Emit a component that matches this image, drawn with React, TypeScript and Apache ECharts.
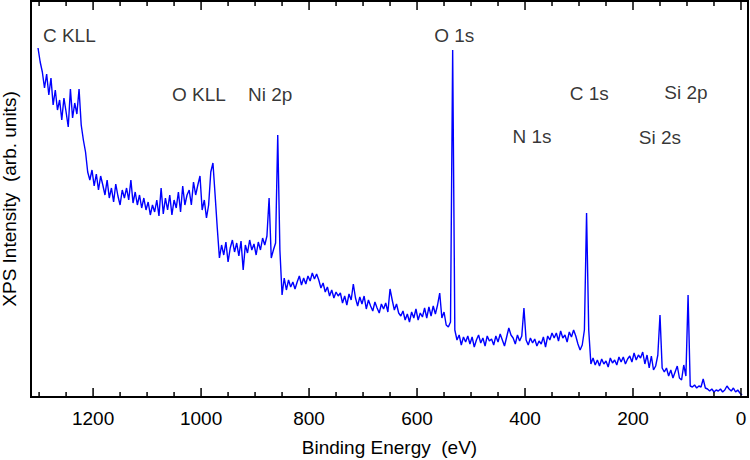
import React, { useEffect, useRef } from "react";
import * as echarts from "echarts";

// Survey scan: binding energy grid (eV) and counts in arbitrary units
const SCAN_START_EV = 1302;
const SCAN_STEP_EV = 4;
const intensity = [
  349, 335, 325, 309, 323, 302, 319, 292, 307, 287, // 1302
  297, 277, 299, 285, 270, 308, 279, 294, 283, 308, // 1262
  272, 257, 245, 225, 217, 227, 211, 223, 207, 221, // 1222
  212, 202, 217, 199, 209, 195, 213, 201, 192, 207, // 1182
  199, 209, 197, 217, 194, 205, 192, 202, 189, 199, // 1142
  187, 195, 182, 192, 185, 197, 181, 209, 183, 199, // 1102
  187, 202, 182, 197, 189, 205, 185, 211, 192, 202, // 1062
  207, 192, 215, 202, 212, 221, 187, 197, 179, 192, // 1022
  225, 234, 202, 169, 139, 152, 142, 155, 135, 149, // 982
  157, 145, 154, 141, 156, 127, 152, 144, 157, 147, // 942
  153, 142, 155, 147, 159, 152, 161, 199, 139, 147, // 902
  154, 262, 147, 102, 119, 107, 117, 110, 115, 108, // 862
  115, 121, 112, 119, 113, 121, 116, 124, 118, 123, // 822
  117, 109, 114, 105, 110, 101, 107, 99, 105, 101, // 782
  104, 94, 101, 92, 103, 97, 113, 99, 91, 100, // 742
  93, 101, 88, 97, 91, 86, 95, 89, 84, 93, // 702
  88, 94, 85, 108, 97, 87, 93, 84, 81, 86, // 662
  77, 83, 75, 85, 79, 88, 77, 84, 80, 89, // 622
  79, 90, 81, 91, 83, 92, 104, 79, 85, 72, // 582
  70, 75, 347, 67, 57, 62, 52, 60, 55, 61, // 542
  53, 60, 50, 57, 62, 54, 59, 51, 61, 56, // 502
  58, 52, 61, 55, 63, 57, 51, 60, 69, 62, // 462
  59, 53, 62, 56, 61, 89, 57, 52, 59, 54, // 422
  58, 51, 56, 53, 60, 50, 61, 57, 64, 59, // 382
  64, 56, 66, 59, 62, 55, 65, 60, 67, 61, // 342
  53, 47, 52, 67, 184, 67, 33, 39, 32, 37, // 302
  31, 38, 33, 36, 30, 39, 34, 37, 32, 40, // 262
  35, 40, 33, 38, 41, 35, 44, 37, 42, 39, // 222
  45, 33, 42, 29, 41, 27, 31, 42, 82, 29, // 182
  25, 29, 21, 27, 19, 25, 31, 19, 17, 32, // 142
  21, 102, 11, 10, 12, 9, 11, 10, 18, 9, // 102
  8, 6, 8, 5, 7, 6, 8, 5, 7, 11, // 62
  8, 6, 9, 5, 7, 4, 2, // 22
];

// Axis ticks (eV)
const majorTicks = [0, 200, 400, 600, 800, 1000, 1200];
const minorTicks = [50, 100, 150, 250, 300, 350, 450, 500, 550, 650, 700, 750, 850, 900, 950, 1050, 1100, 1150, 1250, 1300];

// Peak annotations
const peakNames = ["C KLL", "O KLL", "Ni 2p", "O 1s", "N 1s", "C 1s", "Si 2s", "Si 2p"];
const peakLabelEnergy = [1244, 1004, 872, 531, 387, 281, 150, 102];
const peakLabelHeight = [362, 303, 303, 362, 261, 304, 260, 305];

const X_MIN = -13;
const X_MAX = 1315;
const Y_MIN = 0;
const Y_MAX = 396;

const MAJOR_TICK_PX = 9;
const MINOR_TICK_PX = 5;

const FONT = "'Liberation Sans', Arial, sans-serif";
const FONT_SIZE = 19;

export default function App() {
  const ref = useRef<HTMLDivElement>(null);

  useEffect(() => {
    if (!ref.current) return;
    const chart = echarts.init(ref.current, null, { renderer: "svg" });

    const spectrum = intensity.map((v, i) => [SCAN_START_EV - i * SCAN_STEP_EV, v]);
    const labels = peakNames.map((name, i) => ({
      name,
      value: [peakLabelEnergy[i], peakLabelHeight[i]],
    }));

    chart.setOption({
      animation: false,
      backgroundColor: "#fff",
      grid: {
        left: 31,
        right: 2,
        top: 1,
        bottom: 63,
        outerBoundsMode: "none",
        containLabel: false,
        show: true,
        borderColor: "#000",
        borderWidth: 2,
      },
      xAxis: {
        type: "value",
        min: X_MIN,
        max: X_MAX,
        inverse: true,
        splitLine: { show: false },
        axisLine: { show: false },
        axisTick: { show: false },
        axisLabel: {
          show: true,
          customValues: majorTicks,
          formatter: (v: number) => String(v),
          fontSize: FONT_SIZE,
          color: "#000",
          fontFamily: FONT,
          margin: 12,
        },
        name: "Binding Energy  (eV)",
        nameLocation: "middle",
        nameGap: 41,
        nameTextStyle: { fontSize: FONT_SIZE, color: "#000", fontFamily: FONT },
      },
      yAxis: {
        type: "value",
        min: Y_MIN,
        max: Y_MAX,
        axisLine: { show: false },
        axisTick: { show: false },
        axisLabel: { show: false },
        splitLine: { show: false },
      },
      series: [
        {
          type: "line",
          data: spectrum,
          showSymbol: false,
          silent: true,
          lineStyle: { color: "#0000ff", width: 1.4 },
        },
        {
          type: "scatter",
          data: labels,
          symbolSize: 1,
          silent: true,
          itemStyle: { color: "rgba(0,0,0,0)" },
          label: {
            show: true,
            position: "inside",
            formatter: "{b}",
            fontSize: FONT_SIZE,
            color: "#000",
            fontFamily: FONT,
          },
        },
      ],
    });

    // Inward ticks on the bottom and top frame edges, placed through the x scale
    const tickLines: any[] = [];
    const addTicks = (values: number[], len: number) => {
      values.forEach((e) => {
        const b = chart.convertToPixel({ gridIndex: 0 }, [e, Y_MIN]) as number[];
        const t = chart.convertToPixel({ gridIndex: 0 }, [e, Y_MAX]) as number[];
        const style = { stroke: "#000", lineWidth: 1.5 };
        tickLines.push({
          type: "line",
          silent: true,
          z: 100,
          shape: { x1: b[0], y1: b[1], x2: b[0], y2: b[1] - len },
          style,
        });
        tickLines.push({
          type: "line",
          silent: true,
          z: 100,
          shape: { x1: t[0], y1: t[1], x2: t[0], y2: t[1] + len },
          style,
        });
      });
    };
    addTicks(majorTicks, MAJOR_TICK_PX);
    addTicks(minorTicks, MINOR_TICK_PX);

    const mid = chart.convertToPixel({ gridIndex: 0 }, [X_MAX, (Y_MIN + Y_MAX) / 2]) as number[];

    chart.setOption({
      graphic: [
        ...tickLines,
        {
          type: "text",
          silent: true,
          x: 9,
          y: mid[1],
          rotation: Math.PI / 2,
          style: {
            text: "XPS Intensity  (arb. units)",
            fontSize: FONT_SIZE,
            fontFamily: FONT,
            fill: "#000",
            align: "center",
            verticalAlign: "middle",
          },
        },
      ],
    });

    return () => chart.dispose();
  }, []);

  return (
    <div
      ref={ref}
      style={{ position: "fixed", left: 0, top: 0, width: 750, height: 460, background: "#fff" }}
    />
  );
}
